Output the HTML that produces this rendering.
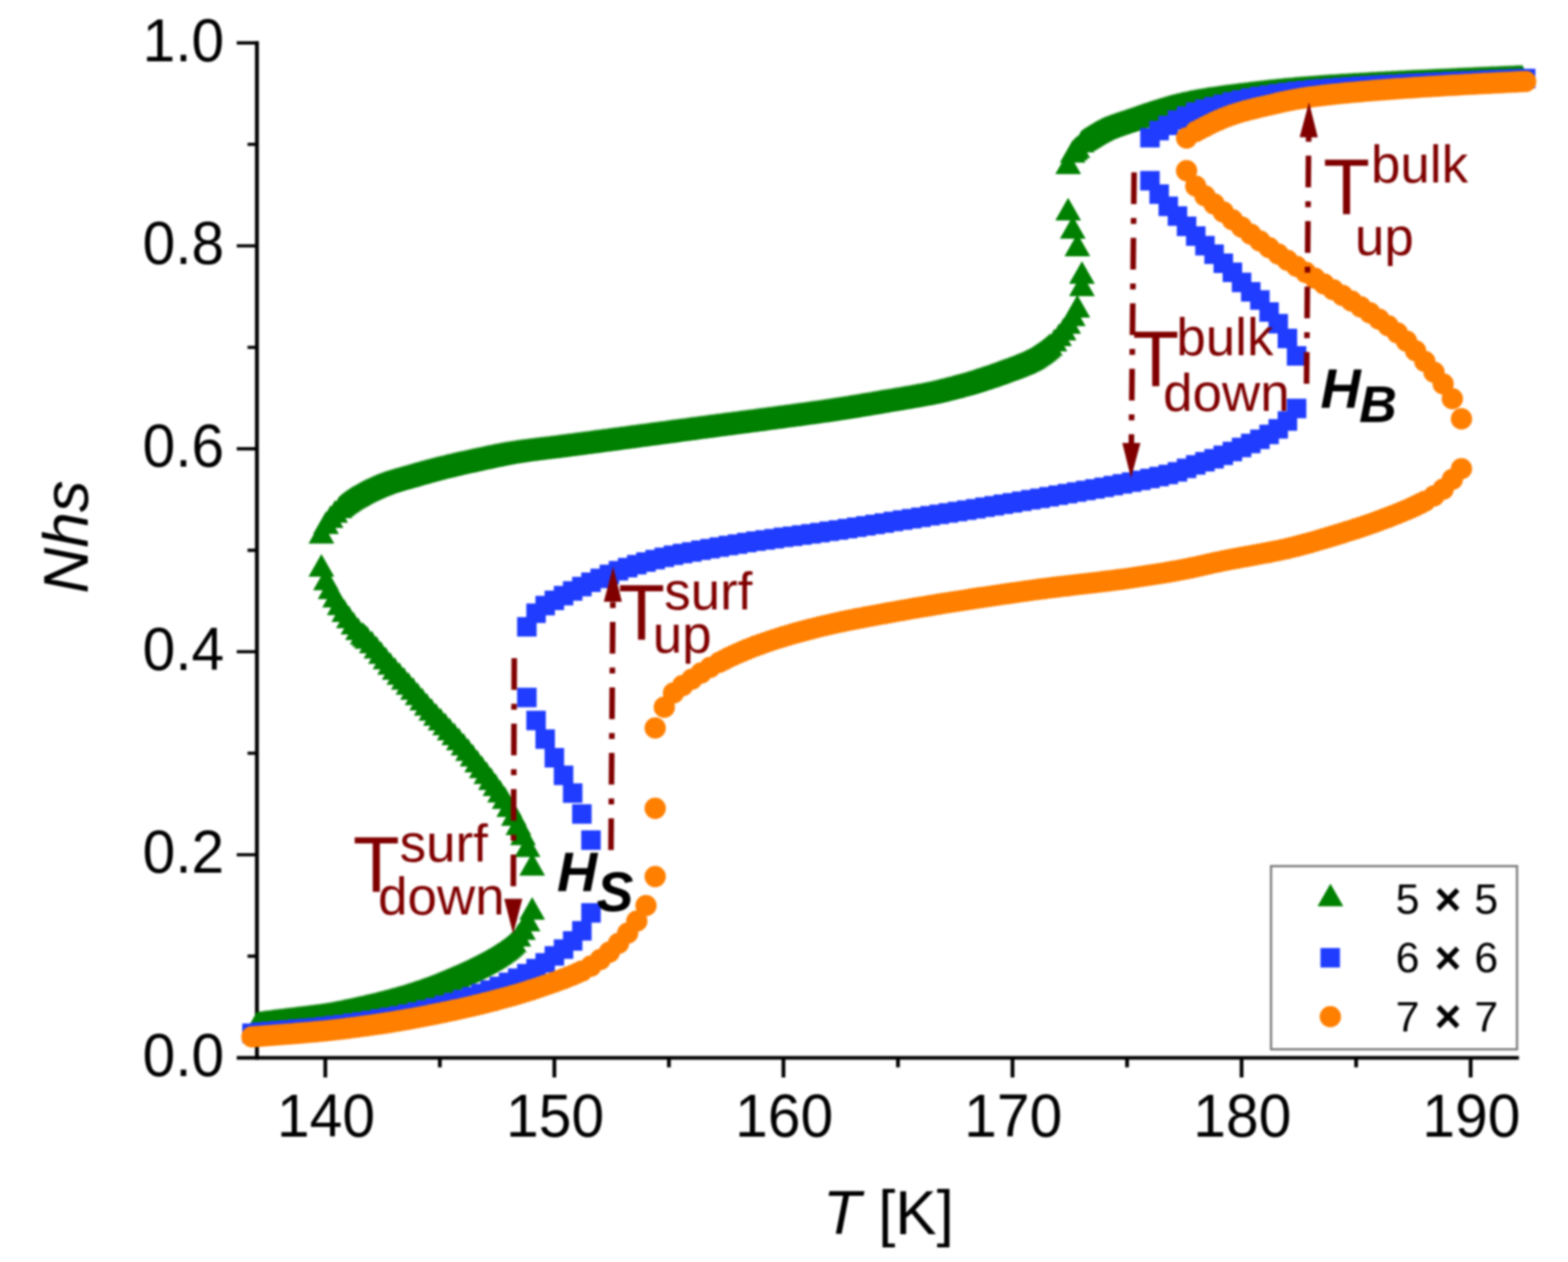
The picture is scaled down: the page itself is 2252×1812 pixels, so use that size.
<!DOCTYPE html>
<html lang="en">
<head>
<meta charset="utf-8">
<title>Nhs versus T</title>
<style>
html,body{margin:0;padding:0;background:#fff;}
body{width:2252px;height:1812px;overflow:hidden;}
svg{display:block;filter:blur(1.4px);}
</style>
</head>
<body>
<svg xmlns="http://www.w3.org/2000/svg" width="2252" height="1812" viewBox="0 0 2252 1812">
<rect width="2252" height="1812" fill="#fff"/>
<g stroke="#000" fill="none">
<path d="M369.0 59V1521.3999999999999" stroke-width="5.6"/>
<path d="M340 1518.8H2181.5" stroke-width="5.2"/>
<path d="M340 1227.2H369.0M340 935.8H369.0M340 644.4H369.0M340 353H369.0M340 61.6H369.0M355.5 1372.9H369.0M355.5 1081.5H369.0M355.5 790.1H369.0M355.5 498.7H369.0M355.5 207.3H369.0" stroke-width="4.6"/>
<path d="M467.2 1518.8V1547M796.2 1518.8V1547M1125.2 1518.8V1547M1454.2 1518.8V1547M1783.2 1518.8V1547M2112.2 1518.8V1547M631.7 1518.8V1532.5M960.7 1518.8V1532.5M1289.7 1518.8V1532.5M1618.7 1518.8V1532.5M1947.7 1518.8V1532.5" stroke-width="5.4"/>
</g>
<g font-family="'Liberation Sans', Arial, sans-serif" font-size="87" fill="#000">
<text transform="translate(322 1544.6) scale(.97 1)" text-anchor="end">0.0</text>
<text transform="translate(322 1253.2) scale(.97 1)" text-anchor="end">0.2</text>
<text transform="translate(322 961.8) scale(.97 1)" text-anchor="end">0.4</text>
<text transform="translate(322 670.4) scale(.97 1)" text-anchor="end">0.6</text>
<text transform="translate(322 379) scale(.97 1)" text-anchor="end">0.8</text>
<text transform="translate(322 87.6) scale(.97 1)" text-anchor="end">1.0</text>
<text transform="translate(468.2 1632) scale(.97 1)" text-anchor="middle">140</text>
<text transform="translate(797.2 1632) scale(.97 1)" text-anchor="middle">150</text>
<text transform="translate(1126.2 1632) scale(.97 1)" text-anchor="middle">160</text>
<text transform="translate(1455.2 1632) scale(.97 1)" text-anchor="middle">170</text>
<text transform="translate(1784.2 1632) scale(.97 1)" text-anchor="middle">180</text>
<text transform="translate(2113.2 1632) scale(.97 1)" text-anchor="middle">190</text>
</g>
<g font-family="'Liberation Sans', Arial, sans-serif" fill="#000">
<text x="1276" y="1771.5" font-size="89" text-anchor="middle"><tspan font-style="italic">T</tspan> [K]</text>
<text transform="translate(126 771) rotate(-90)" font-size="91.5" text-anchor="middle" font-style="italic">Nhs</text>
</g>
<path d="M372.8 1451.2l18.5 32.5h-37zM379.4 1450.3l18.5 32.5h-37zM385.9 1449.4l18.5 32.5h-37zM392.5 1448.5l18.5 32.5h-37zM399.1 1447.7l18.5 32.5h-37zM405.7 1446.9l18.5 32.5h-37zM412.3 1446.1l18.5 32.5h-37zM418.8 1445.3l18.5 32.5h-37zM425.4 1444.5l18.5 32.5h-37zM432 1443.7l18.5 32.5h-37zM438.6 1442.9l18.5 32.5h-37zM445.2 1442.1l18.5 32.5h-37zM451.7 1441.3l18.5 32.5h-37zM458.3 1440.4l18.5 32.5h-37zM464.9 1439.4l18.5 32.5h-37zM471.5 1438.4l18.5 32.5h-37zM478.1 1437.3l18.5 32.5h-37zM484.6 1436l18.5 32.5h-37zM491.2 1434.7l18.5 32.5h-37zM491.2 708.5l18.5 32.5h-37zM497.8 1433.3l18.5 32.5h-37zM497.8 703.4l18.5 32.5h-37zM504.4 1432l18.5 32.5h-37zM504.4 699.1l18.5 32.5h-37zM511 1430.5l18.5 32.5h-37zM511 695.2l18.5 32.5h-37zM517.5 1429.1l18.5 32.5h-37zM517.5 691.6l18.5 32.5h-37zM524.1 1427.6l18.5 32.5h-37zM524.1 895.9l18.5 32.5h-37zM524.1 688.1l18.5 32.5h-37zM530.7 1426.1l18.5 32.5h-37zM530.7 684.9l18.5 32.5h-37zM537.3 1424.5l18.5 32.5h-37zM537.3 682l18.5 32.5h-37zM543.9 1422.8l18.5 32.5h-37zM543.9 679.2l18.5 32.5h-37zM550.4 1421.2l18.5 32.5h-37zM550.4 676.7l18.5 32.5h-37zM557 1419.4l18.5 32.5h-37zM557 674.5l18.5 32.5h-37zM563.6 1417.6l18.5 32.5h-37zM563.6 672.5l18.5 32.5h-37zM570.2 1415.8l18.5 32.5h-37zM570.2 670.6l18.5 32.5h-37zM576.8 1413.9l18.5 32.5h-37zM576.8 668.7l18.5 32.5h-37zM583.3 1411.9l18.5 32.5h-37zM583.3 666.9l18.5 32.5h-37zM589.9 1409.8l18.5 32.5h-37zM589.9 665l18.5 32.5h-37zM596.5 1407.6l18.5 32.5h-37zM596.5 663.1l18.5 32.5h-37zM603.1 1405.4l18.5 32.5h-37zM603.1 661.2l18.5 32.5h-37zM609.7 1403.1l18.5 32.5h-37zM609.7 659.4l18.5 32.5h-37zM616.2 1400.7l18.5 32.5h-37zM616.2 657.7l18.5 32.5h-37zM622.8 1398.2l18.5 32.5h-37zM622.8 656l18.5 32.5h-37zM629.4 1395.5l18.5 32.5h-37zM629.4 654.3l18.5 32.5h-37zM636 1392.8l18.5 32.5h-37zM636 652.7l18.5 32.5h-37zM642.6 1390.1l18.5 32.5h-37zM642.6 651.1l18.5 32.5h-37zM649.1 1387.3l18.5 32.5h-37zM649.1 649.6l18.5 32.5h-37zM655.7 1384.4l18.5 32.5h-37zM655.7 648.1l18.5 32.5h-37zM662.3 1381.5l18.5 32.5h-37zM662.3 646.6l18.5 32.5h-37zM668.9 1378.4l18.5 32.5h-37zM668.9 645.2l18.5 32.5h-37zM675.5 1375.3l18.5 32.5h-37zM675.5 643.7l18.5 32.5h-37zM682 1372.1l18.5 32.5h-37zM682 642.3l18.5 32.5h-37zM688.6 1368.8l18.5 32.5h-37zM688.6 640.9l18.5 32.5h-37zM695.2 1365.3l18.5 32.5h-37zM695.2 639.4l18.5 32.5h-37zM701.8 1361.6l18.5 32.5h-37zM701.8 638l18.5 32.5h-37zM708.4 1357.7l18.5 32.5h-37zM708.4 636.7l18.5 32.5h-37zM714.9 1353.6l18.5 32.5h-37zM714.9 635.4l18.5 32.5h-37zM721.5 1349.1l18.5 32.5h-37zM721.5 634.2l18.5 32.5h-37zM728.1 1344.2l18.5 32.5h-37zM728.1 633l18.5 32.5h-37zM734.7 1338.6l18.5 32.5h-37zM734.7 631.9l18.5 32.5h-37zM741.3 630.9l18.5 32.5h-37zM747.8 630l18.5 32.5h-37zM754.4 629.2l18.5 32.5h-37zM761 628.3l18.5 32.5h-37zM767.6 627.5l18.5 32.5h-37zM774.2 626.7l18.5 32.5h-37zM780.7 626l18.5 32.5h-37zM787.3 625.2l18.5 32.5h-37zM793.9 624.3l18.5 32.5h-37zM800.5 623.5l18.5 32.5h-37zM807.1 622.6l18.5 32.5h-37zM813.6 621.8l18.5 32.5h-37zM820.2 620.9l18.5 32.5h-37zM826.8 620l18.5 32.5h-37zM833.4 619.2l18.5 32.5h-37zM840 618.3l18.5 32.5h-37zM846.5 617.4l18.5 32.5h-37zM853.1 616.6l18.5 32.5h-37zM859.7 615.7l18.5 32.5h-37zM866.3 614.8l18.5 32.5h-37zM872.9 613.9l18.5 32.5h-37zM879.4 613.1l18.5 32.5h-37zM886 612.2l18.5 32.5h-37zM892.6 611.3l18.5 32.5h-37zM899.2 610.4l18.5 32.5h-37zM905.8 609.5l18.5 32.5h-37zM912.3 608.7l18.5 32.5h-37zM918.9 607.8l18.5 32.5h-37zM925.5 606.9l18.5 32.5h-37zM932.1 606l18.5 32.5h-37zM938.7 605.1l18.5 32.5h-37zM945.2 604.2l18.5 32.5h-37zM951.8 603.4l18.5 32.5h-37zM958.4 602.5l18.5 32.5h-37zM965 601.6l18.5 32.5h-37zM971.6 600.7l18.5 32.5h-37zM978.1 599.8l18.5 32.5h-37zM984.7 598.9l18.5 32.5h-37zM991.3 598l18.5 32.5h-37zM997.9 597.2l18.5 32.5h-37zM1004.5 596.3l18.5 32.5h-37zM1011 595.4l18.5 32.5h-37zM1017.6 594.6l18.5 32.5h-37zM1024.2 593.7l18.5 32.5h-37zM1030.8 592.8l18.5 32.5h-37zM1037.4 592l18.5 32.5h-37zM1043.9 591.1l18.5 32.5h-37zM1050.5 590.2l18.5 32.5h-37zM1057.1 589.4l18.5 32.5h-37zM1063.7 588.5l18.5 32.5h-37zM1070.3 587.7l18.5 32.5h-37zM1076.8 586.8l18.5 32.5h-37zM1083.4 585.9l18.5 32.5h-37zM1090 585.1l18.5 32.5h-37zM1096.6 584.2l18.5 32.5h-37zM1103.2 583.3l18.5 32.5h-37zM1109.7 582.5l18.5 32.5h-37zM1116.3 581.6l18.5 32.5h-37zM1122.9 580.7l18.5 32.5h-37zM1129.5 579.8l18.5 32.5h-37zM1136.1 578.9l18.5 32.5h-37zM1142.6 578l18.5 32.5h-37zM1149.2 577.1l18.5 32.5h-37zM1155.8 576.2l18.5 32.5h-37zM1162.4 575.3l18.5 32.5h-37zM1169 574.3l18.5 32.5h-37zM1175.5 573.4l18.5 32.5h-37zM1182.1 572.4l18.5 32.5h-37zM1188.7 571.5l18.5 32.5h-37zM1195.3 570.5l18.5 32.5h-37zM1201.9 569.5l18.5 32.5h-37zM1208.4 568.5l18.5 32.5h-37zM1215 567.4l18.5 32.5h-37zM1221.6 566.3l18.5 32.5h-37zM1228.2 565.3l18.5 32.5h-37zM1234.8 564.2l18.5 32.5h-37zM1241.3 563l18.5 32.5h-37zM1247.9 561.9l18.5 32.5h-37zM1254.5 560.8l18.5 32.5h-37zM1261.1 559.7l18.5 32.5h-37zM1267.7 558.6l18.5 32.5h-37zM1274.2 557.5l18.5 32.5h-37zM1280.8 556.4l18.5 32.5h-37zM1287.4 555.3l18.5 32.5h-37zM1294 554.2l18.5 32.5h-37zM1300.6 553l18.5 32.5h-37zM1307.1 551.9l18.5 32.5h-37zM1313.7 550.7l18.5 32.5h-37zM1320.3 549.5l18.5 32.5h-37zM1326.9 548.2l18.5 32.5h-37zM1333.5 546.9l18.5 32.5h-37zM1340 545.4l18.5 32.5h-37zM1346.6 543.9l18.5 32.5h-37zM1353.2 542.3l18.5 32.5h-37zM1359.8 540.6l18.5 32.5h-37zM1366.4 538.9l18.5 32.5h-37zM1372.9 537.1l18.5 32.5h-37zM1379.5 535.3l18.5 32.5h-37zM1386.1 533.4l18.5 32.5h-37zM1392.7 531.4l18.5 32.5h-37zM1399.3 529.4l18.5 32.5h-37zM1405.8 527.3l18.5 32.5h-37zM1412.4 525.1l18.5 32.5h-37zM1419 522.9l18.5 32.5h-37zM1425.6 520.6l18.5 32.5h-37zM1432.2 518.2l18.5 32.5h-37zM1438.7 515.8l18.5 32.5h-37zM1445.3 513.4l18.5 32.5h-37zM1451.9 511l18.5 32.5h-37zM1458.5 508.4l18.5 32.5h-37zM1465.1 505.8l18.5 32.5h-37zM1471.6 502.9l18.5 32.5h-37zM1478.2 499.7l18.5 32.5h-37zM1484.8 495.9l18.5 32.5h-37zM1491.4 491.6l18.5 32.5h-37zM1498 486.8l18.5 32.5h-37zM1504.5 481.4l18.5 32.5h-37zM1544 197.6l18.5 32.5h-37zM1557.2 183.6l18.5 32.5h-37zM1563.8 179.4l18.5 32.5h-37zM1570.3 175.5l18.5 32.5h-37zM1576.9 171.7l18.5 32.5h-37zM1583.5 168.3l18.5 32.5h-37zM1590.1 165.5l18.5 32.5h-37zM1596.7 163.1l18.5 32.5h-37zM1603.2 160.8l18.5 32.5h-37zM1609.8 158.6l18.5 32.5h-37zM1616.4 156.4l18.5 32.5h-37zM1623 154.2l18.5 32.5h-37zM1629.6 151.9l18.5 32.5h-37zM1636.1 149.6l18.5 32.5h-37zM1642.7 147.3l18.5 32.5h-37zM1649.3 145.2l18.5 32.5h-37zM1655.9 143.1l18.5 32.5h-37zM1662.5 140.9l18.5 32.5h-37zM1669 138.9l18.5 32.5h-37zM1675.6 137l18.5 32.5h-37zM1682.2 135.1l18.5 32.5h-37zM1688.8 133.4l18.5 32.5h-37zM1695.4 131.9l18.5 32.5h-37zM1701.9 130.4l18.5 32.5h-37zM1708.5 129l18.5 32.5h-37zM1715.1 127.7l18.5 32.5h-37zM1721.7 126.5l18.5 32.5h-37zM1728.3 125.4l18.5 32.5h-37zM1734.8 124.3l18.5 32.5h-37zM1741.4 123.4l18.5 32.5h-37zM1748 122.4l18.5 32.5h-37zM1754.6 121.5l18.5 32.5h-37zM1761.2 120.6l18.5 32.5h-37zM1767.7 119.7l18.5 32.5h-37zM1774.3 118.9l18.5 32.5h-37zM1780.9 118.1l18.5 32.5h-37zM1787.5 117.3l18.5 32.5h-37zM1794.1 116.5l18.5 32.5h-37zM1800.6 115.7l18.5 32.5h-37zM1807.2 114.9l18.5 32.5h-37zM1813.8 114.2l18.5 32.5h-37zM1820.4 113.4l18.5 32.5h-37zM1827 112.7l18.5 32.5h-37zM1833.5 112.1l18.5 32.5h-37zM1840.1 111.4l18.5 32.5h-37zM1846.7 110.8l18.5 32.5h-37zM1853.3 110.2l18.5 32.5h-37zM1859.9 109.6l18.5 32.5h-37zM1866.4 109l18.5 32.5h-37zM1873 108.5l18.5 32.5h-37zM1879.6 108l18.5 32.5h-37zM1886.2 107.5l18.5 32.5h-37zM1892.8 107l18.5 32.5h-37zM1899.3 106.5l18.5 32.5h-37zM1905.9 106.1l18.5 32.5h-37zM1912.5 105.6l18.5 32.5h-37zM1919.1 105.2l18.5 32.5h-37zM1925.7 104.8l18.5 32.5h-37zM1932.2 104.4l18.5 32.5h-37zM1938.8 104l18.5 32.5h-37zM1945.4 103.6l18.5 32.5h-37zM1952 103.2l18.5 32.5h-37zM1958.6 102.9l18.5 32.5h-37zM1965.1 102.5l18.5 32.5h-37zM1971.7 102.1l18.5 32.5h-37zM1978.3 101.8l18.5 32.5h-37zM1984.9 101.4l18.5 32.5h-37zM1991.5 101.1l18.5 32.5h-37zM1998 100.8l18.5 32.5h-37zM2004.6 100.4l18.5 32.5h-37zM2011.2 100.1l18.5 32.5h-37zM2017.8 99.8l18.5 32.5h-37zM2024.4 99.5l18.5 32.5h-37zM2030.9 99.1l18.5 32.5h-37zM2037.5 98.8l18.5 32.5h-37zM2044.1 98.5l18.5 32.5h-37zM2050.7 98.2l18.5 32.5h-37zM2057.3 97.9l18.5 32.5h-37zM2063.8 97.6l18.5 32.5h-37zM2070.4 97.3l18.5 32.5h-37zM2077 97l18.5 32.5h-37zM2083.6 96.7l18.5 32.5h-37zM2090.2 96.4l18.5 32.5h-37zM2096.7 96.1l18.5 32.5h-37zM2103.3 95.8l18.5 32.5h-37zM2109.9 95.5l18.5 32.5h-37zM2116.5 95.3l18.5 32.5h-37zM2123.1 95l18.5 32.5h-37zM2129.6 94.7l18.5 32.5h-37zM2136.2 94.4l18.5 32.5h-37zM2142.8 94.1l18.5 32.5h-37zM2149.4 93.9l18.5 32.5h-37zM2156 93.6l18.5 32.5h-37zM2162.5 93.3l18.5 32.5h-37zM2169.1 93l18.5 32.5h-37zM2175.7 92.8l18.5 32.5h-37zM2182.3 92.5l18.5 32.5h-37zM369.5 1451.7l18.5 32.5h-37zM376.1 1450.7l18.5 32.5h-37zM382.6 1449.8l18.5 32.5h-37zM389.2 1448.9l18.5 32.5h-37zM395.8 1448.1l18.5 32.5h-37zM402.4 1447.3l18.5 32.5h-37zM409 1446.5l18.5 32.5h-37zM415.5 1445.7l18.5 32.5h-37zM422.1 1444.9l18.5 32.5h-37zM428.7 1444.1l18.5 32.5h-37zM435.3 1443.3l18.5 32.5h-37zM441.9 1442.5l18.5 32.5h-37zM448.4 1441.7l18.5 32.5h-37zM455 1440.8l18.5 32.5h-37zM461.6 1439.9l18.5 32.5h-37zM461.6 795.6l18.5 32.5h-37zM461.6 747.9l18.5 32.5h-37zM468.2 1438.9l18.5 32.5h-37zM468.2 815.1l18.5 32.5h-37zM468.2 734.2l18.5 32.5h-37zM474.8 1437.9l18.5 32.5h-37zM474.8 827.8l18.5 32.5h-37zM474.8 725.4l18.5 32.5h-37zM481.3 1436.7l18.5 32.5h-37zM481.3 839.8l18.5 32.5h-37zM481.3 717.9l18.5 32.5h-37zM487.9 1435.4l18.5 32.5h-37zM487.9 850.7l18.5 32.5h-37zM487.9 711.4l18.5 32.5h-37zM494.5 1434l18.5 32.5h-37zM494.5 860.4l18.5 32.5h-37zM494.5 705.8l18.5 32.5h-37zM501.1 1432.7l18.5 32.5h-37zM501.1 869.5l18.5 32.5h-37zM501.1 701.2l18.5 32.5h-37zM507.7 1431.3l18.5 32.5h-37zM507.7 878.4l18.5 32.5h-37zM507.7 697.1l18.5 32.5h-37zM514.2 1429.8l18.5 32.5h-37zM514.2 886.4l18.5 32.5h-37zM514.2 693.4l18.5 32.5h-37zM520.8 1428.4l18.5 32.5h-37zM520.8 892.9l18.5 32.5h-37zM520.8 689.8l18.5 32.5h-37zM527.4 1426.8l18.5 32.5h-37zM527.4 898.9l18.5 32.5h-37zM527.4 686.5l18.5 32.5h-37zM534 1425.3l18.5 32.5h-37zM534 905.6l18.5 32.5h-37zM534 683.4l18.5 32.5h-37zM540.6 1423.7l18.5 32.5h-37zM540.6 913l18.5 32.5h-37zM540.6 680.6l18.5 32.5h-37zM547.1 1422l18.5 32.5h-37zM547.1 920.8l18.5 32.5h-37zM547.1 677.9l18.5 32.5h-37zM553.7 1420.3l18.5 32.5h-37zM553.7 928.6l18.5 32.5h-37zM553.7 675.6l18.5 32.5h-37zM560.3 1418.5l18.5 32.5h-37zM560.3 936.2l18.5 32.5h-37zM560.3 673.5l18.5 32.5h-37zM566.9 1416.7l18.5 32.5h-37zM566.9 943.5l18.5 32.5h-37zM566.9 671.5l18.5 32.5h-37zM573.5 1414.8l18.5 32.5h-37zM573.5 950.7l18.5 32.5h-37zM573.5 669.7l18.5 32.5h-37zM580 1412.9l18.5 32.5h-37zM580 957.8l18.5 32.5h-37zM580 667.8l18.5 32.5h-37zM586.6 1410.8l18.5 32.5h-37zM586.6 965l18.5 32.5h-37zM586.6 665.9l18.5 32.5h-37zM593.2 1408.7l18.5 32.5h-37zM593.2 972.3l18.5 32.5h-37zM593.2 664l18.5 32.5h-37zM599.8 1406.5l18.5 32.5h-37zM599.8 979.9l18.5 32.5h-37zM599.8 662.2l18.5 32.5h-37zM606.4 1404.3l18.5 32.5h-37zM606.4 987.5l18.5 32.5h-37zM606.4 660.3l18.5 32.5h-37zM612.9 1401.9l18.5 32.5h-37zM612.9 995l18.5 32.5h-37zM612.9 658.5l18.5 32.5h-37zM619.5 1399.4l18.5 32.5h-37zM619.5 1002.3l18.5 32.5h-37zM619.5 656.8l18.5 32.5h-37zM626.1 1396.9l18.5 32.5h-37zM626.1 1009.4l18.5 32.5h-37zM626.1 655.1l18.5 32.5h-37zM632.7 1394.2l18.5 32.5h-37zM632.7 1016.3l18.5 32.5h-37zM632.7 653.5l18.5 32.5h-37zM639.3 1391.5l18.5 32.5h-37zM639.3 1023.3l18.5 32.5h-37zM639.3 651.9l18.5 32.5h-37zM645.8 1388.7l18.5 32.5h-37zM645.8 1030.4l18.5 32.5h-37zM645.8 650.4l18.5 32.5h-37zM652.4 1385.8l18.5 32.5h-37zM652.4 1037.5l18.5 32.5h-37zM652.4 648.8l18.5 32.5h-37zM659 1382.9l18.5 32.5h-37zM659 1044.8l18.5 32.5h-37zM659 647.3l18.5 32.5h-37zM665.6 1380l18.5 32.5h-37zM665.6 1052.3l18.5 32.5h-37zM665.6 645.9l18.5 32.5h-37zM672.2 1376.9l18.5 32.5h-37zM672.2 1060.1l18.5 32.5h-37zM672.2 644.4l18.5 32.5h-37zM678.7 1373.7l18.5 32.5h-37zM678.7 1068.1l18.5 32.5h-37zM678.7 643l18.5 32.5h-37zM685.3 1370.4l18.5 32.5h-37zM685.3 1076.4l18.5 32.5h-37zM685.3 641.6l18.5 32.5h-37zM691.9 1367l18.5 32.5h-37zM691.9 1084.8l18.5 32.5h-37zM691.9 640.2l18.5 32.5h-37zM698.5 1363.5l18.5 32.5h-37zM698.5 1093.3l18.5 32.5h-37zM698.5 638.7l18.5 32.5h-37zM705.1 1359.7l18.5 32.5h-37zM705.1 1101.8l18.5 32.5h-37zM705.1 637.4l18.5 32.5h-37zM711.6 1355.7l18.5 32.5h-37zM711.6 1110.6l18.5 32.5h-37zM711.6 636l18.5 32.5h-37zM718.2 1351.4l18.5 32.5h-37zM718.2 1119.7l18.5 32.5h-37zM718.2 634.8l18.5 32.5h-37zM724.8 1346.7l18.5 32.5h-37zM724.8 1129l18.5 32.5h-37zM724.8 633.6l18.5 32.5h-37zM731.4 1341.5l18.5 32.5h-37zM731.4 1140.6l18.5 32.5h-37zM731.4 632.5l18.5 32.5h-37zM738 1335.3l18.5 32.5h-37zM738 1153.2l18.5 32.5h-37zM738 631.4l18.5 32.5h-37zM744.5 1326.6l18.5 32.5h-37zM744.5 1166.4l18.5 32.5h-37zM744.5 630.5l18.5 32.5h-37zM751.1 1317.1l18.5 32.5h-37zM751.1 1180.9l18.5 32.5h-37zM751.1 629.6l18.5 32.5h-37zM757.7 1304.8l18.5 32.5h-37zM757.7 1198.1l18.5 32.5h-37zM757.7 628.7l18.5 32.5h-37zM764.3 1287.9l18.5 32.5h-37zM764.3 1224.7l18.5 32.5h-37zM764.3 627.9l18.5 32.5h-37zM770.9 627.1l18.5 32.5h-37zM777.4 626.3l18.5 32.5h-37zM784 625.6l18.5 32.5h-37zM790.6 624.8l18.5 32.5h-37zM797.2 623.9l18.5 32.5h-37zM803.8 623.1l18.5 32.5h-37zM810.3 622.2l18.5 32.5h-37zM816.9 621.3l18.5 32.5h-37zM823.5 620.5l18.5 32.5h-37zM830.1 619.6l18.5 32.5h-37zM836.7 618.7l18.5 32.5h-37zM843.2 617.9l18.5 32.5h-37zM849.8 617l18.5 32.5h-37zM856.4 616.1l18.5 32.5h-37zM863 615.3l18.5 32.5h-37zM869.6 614.4l18.5 32.5h-37zM876.1 613.5l18.5 32.5h-37zM882.7 612.6l18.5 32.5h-37zM889.3 611.7l18.5 32.5h-37zM895.9 610.9l18.5 32.5h-37zM902.5 610l18.5 32.5h-37zM909 609.1l18.5 32.5h-37zM915.6 608.2l18.5 32.5h-37zM922.2 607.3l18.5 32.5h-37zM928.8 606.5l18.5 32.5h-37zM935.4 605.6l18.5 32.5h-37zM941.9 604.7l18.5 32.5h-37zM948.5 603.8l18.5 32.5h-37zM955.1 602.9l18.5 32.5h-37zM961.7 602l18.5 32.5h-37zM968.3 601.1l18.5 32.5h-37zM974.8 600.3l18.5 32.5h-37zM981.4 599.4l18.5 32.5h-37zM988 598.5l18.5 32.5h-37zM994.6 597.6l18.5 32.5h-37zM1001.2 596.7l18.5 32.5h-37zM1007.7 595.9l18.5 32.5h-37zM1014.3 595l18.5 32.5h-37zM1020.9 594.1l18.5 32.5h-37zM1027.5 593.3l18.5 32.5h-37zM1034.1 592.4l18.5 32.5h-37zM1040.6 591.5l18.5 32.5h-37zM1047.2 590.7l18.5 32.5h-37zM1053.8 589.8l18.5 32.5h-37zM1060.4 589l18.5 32.5h-37zM1067 588.1l18.5 32.5h-37zM1073.5 587.2l18.5 32.5h-37zM1080.1 586.4l18.5 32.5h-37zM1086.7 585.5l18.5 32.5h-37zM1093.3 584.6l18.5 32.5h-37zM1099.9 583.8l18.5 32.5h-37zM1106.4 582.9l18.5 32.5h-37zM1113 582l18.5 32.5h-37zM1119.6 581.1l18.5 32.5h-37zM1126.2 580.3l18.5 32.5h-37zM1132.8 579.4l18.5 32.5h-37zM1139.3 578.5l18.5 32.5h-37zM1145.9 577.6l18.5 32.5h-37zM1152.5 576.7l18.5 32.5h-37zM1159.1 575.7l18.5 32.5h-37zM1165.7 574.8l18.5 32.5h-37zM1172.2 573.9l18.5 32.5h-37zM1178.8 572.9l18.5 32.5h-37zM1185.4 571.9l18.5 32.5h-37zM1192 571l18.5 32.5h-37zM1198.6 570l18.5 32.5h-37zM1205.1 569l18.5 32.5h-37zM1211.7 567.9l18.5 32.5h-37zM1218.3 566.9l18.5 32.5h-37zM1224.9 565.8l18.5 32.5h-37zM1231.5 564.7l18.5 32.5h-37zM1238 563.6l18.5 32.5h-37zM1244.6 562.5l18.5 32.5h-37zM1251.2 561.4l18.5 32.5h-37zM1257.8 560.2l18.5 32.5h-37zM1264.4 559.1l18.5 32.5h-37zM1270.9 558l18.5 32.5h-37zM1277.5 556.9l18.5 32.5h-37zM1284.1 555.8l18.5 32.5h-37zM1290.7 554.7l18.5 32.5h-37zM1297.3 553.6l18.5 32.5h-37zM1303.8 552.5l18.5 32.5h-37zM1310.4 551.3l18.5 32.5h-37zM1317 550.1l18.5 32.5h-37zM1323.6 548.9l18.5 32.5h-37zM1330.2 547.6l18.5 32.5h-37zM1336.7 546.2l18.5 32.5h-37zM1343.3 544.7l18.5 32.5h-37zM1349.9 543.1l18.5 32.5h-37zM1356.5 541.5l18.5 32.5h-37zM1363.1 539.8l18.5 32.5h-37zM1369.6 538l18.5 32.5h-37zM1376.2 536.2l18.5 32.5h-37zM1382.8 534.4l18.5 32.5h-37zM1389.4 532.4l18.5 32.5h-37zM1396 530.4l18.5 32.5h-37zM1402.5 528.3l18.5 32.5h-37zM1409.1 526.2l18.5 32.5h-37zM1415.7 524l18.5 32.5h-37zM1422.3 521.7l18.5 32.5h-37zM1428.9 519.4l18.5 32.5h-37zM1435.4 517l18.5 32.5h-37zM1442 514.6l18.5 32.5h-37zM1448.6 512.2l18.5 32.5h-37zM1455.2 509.7l18.5 32.5h-37zM1461.8 507.1l18.5 32.5h-37zM1468.3 504.4l18.5 32.5h-37zM1474.9 501.3l18.5 32.5h-37zM1481.5 497.9l18.5 32.5h-37zM1488.1 493.8l18.5 32.5h-37zM1494.7 489.3l18.5 32.5h-37zM1501.2 484.2l18.5 32.5h-37zM1507.8 478.4l18.5 32.5h-37zM1514.4 472l18.5 32.5h-37zM1521 464.6l18.5 32.5h-37zM1527.6 456.3l18.5 32.5h-37zM1534.1 446.7l18.5 32.5h-37zM1534.1 284l18.5 32.5h-37zM1534.1 217.6l18.5 32.5h-37zM1540.7 435.8l18.5 32.5h-37zM1540.7 310.2l18.5 32.5h-37zM1540.7 201.1l18.5 32.5h-37zM1547.3 423.5l18.5 32.5h-37zM1547.3 335.4l18.5 32.5h-37zM1547.3 194.5l18.5 32.5h-37zM1553.9 392.7l18.5 32.5h-37zM1553.9 375.1l18.5 32.5h-37zM1553.9 186.2l18.5 32.5h-37zM1560.5 181.4l18.5 32.5h-37zM1567 177.5l18.5 32.5h-37zM1573.6 173.6l18.5 32.5h-37zM1580.2 170l18.5 32.5h-37zM1586.8 166.8l18.5 32.5h-37zM1593.4 164.2l18.5 32.5h-37zM1599.9 161.9l18.5 32.5h-37zM1606.5 159.7l18.5 32.5h-37zM1613.1 157.5l18.5 32.5h-37zM1619.7 155.3l18.5 32.5h-37zM1626.3 153l18.5 32.5h-37zM1632.8 150.7l18.5 32.5h-37zM1639.4 148.5l18.5 32.5h-37zM1646 146.3l18.5 32.5h-37zM1652.6 144.1l18.5 32.5h-37zM1659.2 142l18.5 32.5h-37zM1665.7 139.9l18.5 32.5h-37zM1672.3 137.9l18.5 32.5h-37zM1678.9 136l18.5 32.5h-37zM1685.5 134.3l18.5 32.5h-37zM1692.1 132.6l18.5 32.5h-37zM1698.6 131.1l18.5 32.5h-37zM1705.2 129.7l18.5 32.5h-37zM1711.8 128.3l18.5 32.5h-37zM1718.4 127.1l18.5 32.5h-37zM1725 125.9l18.5 32.5h-37zM1731.5 124.9l18.5 32.5h-37zM1738.1 123.8l18.5 32.5h-37zM1744.7 122.9l18.5 32.5h-37zM1751.3 121.9l18.5 32.5h-37zM1757.9 121l18.5 32.5h-37zM1764.4 120.2l18.5 32.5h-37zM1771 119.3l18.5 32.5h-37zM1777.6 118.5l18.5 32.5h-37zM1784.2 117.7l18.5 32.5h-37zM1790.8 116.9l18.5 32.5h-37zM1797.3 116.1l18.5 32.5h-37zM1803.9 115.3l18.5 32.5h-37zM1810.5 114.5l18.5 32.5h-37zM1817.1 113.8l18.5 32.5h-37zM1823.7 113.1l18.5 32.5h-37zM1830.2 112.4l18.5 32.5h-37zM1836.8 111.7l18.5 32.5h-37zM1843.4 111.1l18.5 32.5h-37zM1850 110.5l18.5 32.5h-37zM1856.6 109.9l18.5 32.5h-37zM1863.1 109.3l18.5 32.5h-37zM1869.7 108.8l18.5 32.5h-37zM1876.3 108.2l18.5 32.5h-37zM1882.9 107.7l18.5 32.5h-37zM1889.5 107.2l18.5 32.5h-37zM1896 106.7l18.5 32.5h-37zM1902.6 106.3l18.5 32.5h-37zM1909.2 105.8l18.5 32.5h-37zM1915.8 105.4l18.5 32.5h-37zM1922.4 105l18.5 32.5h-37zM1928.9 104.6l18.5 32.5h-37zM1935.5 104.2l18.5 32.5h-37zM1942.1 103.8l18.5 32.5h-37zM1948.7 103.4l18.5 32.5h-37zM1955.3 103l18.5 32.5h-37zM1961.8 102.7l18.5 32.5h-37zM1968.4 102.3l18.5 32.5h-37zM1975 102l18.5 32.5h-37zM1981.6 101.6l18.5 32.5h-37zM1988.2 101.3l18.5 32.5h-37zM1994.7 100.9l18.5 32.5h-37zM2001.3 100.6l18.5 32.5h-37zM2007.9 100.3l18.5 32.5h-37zM2014.5 99.9l18.5 32.5h-37zM2021.1 99.6l18.5 32.5h-37zM2027.6 99.3l18.5 32.5h-37zM2034.2 99l18.5 32.5h-37zM2040.8 98.7l18.5 32.5h-37zM2047.4 98.4l18.5 32.5h-37zM2054 98.1l18.5 32.5h-37zM2060.5 97.8l18.5 32.5h-37zM2067.1 97.4l18.5 32.5h-37zM2073.7 97.2l18.5 32.5h-37zM2080.3 96.9l18.5 32.5h-37zM2086.9 96.6l18.5 32.5h-37zM2093.4 96.3l18.5 32.5h-37zM2100 96l18.5 32.5h-37zM2106.6 95.7l18.5 32.5h-37zM2113.2 95.4l18.5 32.5h-37zM2119.8 95.1l18.5 32.5h-37zM2126.3 94.8l18.5 32.5h-37zM2132.9 94.6l18.5 32.5h-37zM2139.5 94.3l18.5 32.5h-37zM2146.1 94l18.5 32.5h-37zM2152.7 93.7l18.5 32.5h-37zM2159.2 93.4l18.5 32.5h-37zM2165.8 93.2l18.5 32.5h-37zM2172.4 92.9l18.5 32.5h-37zM2179 92.6l18.5 32.5h-37zM2185.6 92.4l18.5 32.5h-37z" fill="#008000"/>
<path d="M347.9 1469.4h28v28h-28zM361.1 1468.1h28v28h-28zM374.2 1466.9h28v28h-28zM387.4 1465.8h28v28h-28zM400.6 1464.7h28v28h-28zM413.7 1463.6h28v28h-28zM426.9 1462.5h28v28h-28zM440 1461.4h28v28h-28zM453.2 1460.1h28v28h-28zM466.4 1458.6h28v28h-28zM479.5 1456.9h28v28h-28zM492.7 1455.1h28v28h-28zM505.8 1453.2h28v28h-28zM519 1451.2h28v28h-28zM532.2 1449.1h28v28h-28zM545.3 1446.8h28v28h-28zM558.5 1444.5h28v28h-28zM571.6 1441.9h28v28h-28zM584.8 1439.2h28v28h-28zM598 1436.2h28v28h-28zM611.1 1432.9h28v28h-28zM624.3 1429.2h28v28h-28zM637.4 1425.4h28v28h-28zM650.6 1421.3h28v28h-28zM663.8 1417h28v28h-28zM676.9 1412.4h28v28h-28zM690.1 1407.5h28v28h-28zM703.2 1402.3h28v28h-28zM716.4 1396.6h28v28h-28zM729.6 1390.5h28v28h-28zM742.7 1383.9h28v28h-28zM742.7 987.4h28v28h-28zM742.7 886.1h28v28h-28zM755.9 1376.7h28v28h-28zM755.9 1020.6h28v28h-28zM755.9 866.6h28v28h-28zM769 1368.5h28v28h-28zM769 1047.3h28v28h-28zM769 855.5h28v28h-28zM782.2 1358.5h28v28h-28zM782.2 1074.1h28v28h-28zM782.2 848.1h28v28h-28zM795.4 1348.8h28v28h-28zM795.4 1099.3h28v28h-28zM795.4 841.2h28v28h-28zM808.5 1337h28v28h-28zM808.5 1124.8h28v28h-28zM808.5 834.6h28v28h-28zM821.7 1322.4h28v28h-28zM821.7 1154.8h28v28h-28zM821.7 828.2h28v28h-28zM834.8 1296.7h28v28h-28zM834.8 1192.3h28v28h-28zM834.8 822.1h28v28h-28zM848 816.4h28v28h-28zM861.2 810.7h28v28h-28zM874.3 805.5h28v28h-28zM887.5 800.9h28v28h-28zM900.6 796.8h28v28h-28zM913.8 793h28v28h-28zM927 789.5h28v28h-28zM940.1 786.3h28v28h-28zM953.3 783.3h28v28h-28zM966.4 780.8h28v28h-28zM979.6 778.4h28v28h-28zM992.8 776h28v28h-28zM1005.9 773.7h28v28h-28zM1019.1 771.5h28v28h-28zM1032.2 769.3h28v28h-28zM1045.4 767.2h28v28h-28zM1058.6 765.1h28v28h-28zM1071.7 763.1h28v28h-28zM1084.9 761.2h28v28h-28zM1098 759.4h28v28h-28zM1111.2 757.6h28v28h-28zM1124.4 755.9h28v28h-28zM1137.5 754.2h28v28h-28zM1150.7 752.4h28v28h-28zM1163.8 750.7h28v28h-28zM1177 748.8h28v28h-28zM1190.2 746.9h28v28h-28zM1203.3 745h28v28h-28zM1216.5 743h28v28h-28zM1229.6 740.9h28v28h-28zM1242.8 738.9h28v28h-28zM1256 736.9h28v28h-28zM1269.1 734.8h28v28h-28zM1282.3 732.7h28v28h-28zM1295.4 730.7h28v28h-28zM1308.6 728.7h28v28h-28zM1321.8 726.6h28v28h-28zM1334.9 724.6h28v28h-28zM1348.1 722.5h28v28h-28zM1361.2 720.5h28v28h-28zM1374.4 718.4h28v28h-28zM1387.6 716.4h28v28h-28zM1400.7 714.3h28v28h-28zM1413.9 712.2h28v28h-28zM1427 710.1h28v28h-28zM1440.2 708h28v28h-28zM1453.4 705.8h28v28h-28zM1466.5 703.6h28v28h-28zM1479.7 701.4h28v28h-28zM1492.8 699.2h28v28h-28zM1506 697h28v28h-28zM1519.2 694.8h28v28h-28zM1532.3 692.6h28v28h-28zM1545.5 690.3h28v28h-28zM1558.6 688.1h28v28h-28zM1571.8 685.7h28v28h-28zM1585 683.3h28v28h-28zM1598.1 680.8h28v28h-28zM1611.3 678.3h28v28h-28zM1624.4 675.7h28v28h-28zM1637.6 673.1h28v28h-28zM1637.6 245.4h28v28h-28zM1637.6 183.7h28v28h-28zM1650.8 670.3h28v28h-28zM1650.8 264.7h28v28h-28zM1650.8 173.6h28v28h-28zM1663.9 667.2h28v28h-28zM1663.9 282.3h28v28h-28zM1663.9 165.9h28v28h-28zM1677.1 663.4h28v28h-28zM1677.1 296.3h28v28h-28zM1677.1 158.6h28v28h-28zM1690.2 658.5h28v28h-28zM1690.2 311h28v28h-28zM1690.2 152.8h28v28h-28zM1703.4 653.5h28v28h-28zM1703.4 325h28v28h-28zM1703.4 147h28v28h-28zM1716.6 649.1h28v28h-28zM1716.6 338.8h28v28h-28zM1716.6 142.8h28v28h-28zM1729.7 644.7h28v28h-28zM1729.7 350.9h28v28h-28zM1729.7 139.3h28v28h-28zM1742.9 639.7h28v28h-28zM1742.9 364.1h28v28h-28zM1742.9 135.7h28v28h-28zM1756 634.3h28v28h-28zM1756 376.9h28v28h-28zM1756 132.3h28v28h-28zM1769.2 628.6h28v28h-28zM1769.2 391.5h28v28h-28zM1769.2 129.4h28v28h-28zM1782.4 622.8h28v28h-28zM1782.4 404.9h28v28h-28zM1782.4 126.8h28v28h-28zM1795.5 616.7h28v28h-28zM1795.5 416.8h28v28h-28zM1795.5 124.5h28v28h-28zM1808.7 609.7h28v28h-28zM1808.7 434h28v28h-28zM1808.7 122.4h28v28h-28zM1821.8 601.8h28v28h-28zM1821.8 450.7h28v28h-28zM1821.8 120.5h28v28h-28zM1835 590.5h28v28h-28zM1835 472h28v28h-28zM1835 118.8h28v28h-28zM1848.2 572.6h28v28h-28zM1848.2 497h28v28h-28zM1848.2 117.3h28v28h-28zM1861.3 115.9h28v28h-28zM1874.5 114.6h28v28h-28zM1887.6 113.5h28v28h-28zM1900.8 112.5h28v28h-28zM1914 111.5h28v28h-28zM1927.1 110.7h28v28h-28zM1940.3 109.8h28v28h-28zM1953.4 109.1h28v28h-28zM1966.6 108.3h28v28h-28zM1979.8 107.6h28v28h-28zM1992.9 106.9h28v28h-28zM2006.1 106.2h28v28h-28zM2019.2 105.6h28v28h-28zM2032.4 104.9h28v28h-28zM2045.6 104.3h28v28h-28zM2058.7 103.7h28v28h-28zM2071.9 103.1h28v28h-28zM2085 102.5h28v28h-28zM2098.2 101.9h28v28h-28zM2111.4 101.4h28v28h-28zM2124.5 100.8h28v28h-28zM2137.7 100.3h28v28h-28zM2150.8 99.7h28v28h-28zM2164 99.2h28v28h-28zM2177.2 98.7h28v28h-28z" fill="#1f3cff"/>
<path d="M368.5 1488.2h0M381.7 1487.2h0M394.8 1486.2h0M408 1485.2h0M421.1 1484.2h0M434.3 1483.1h0M447.5 1482h0M460.6 1480.8h0M473.8 1479.5h0M486.9 1478h0M500.1 1476.4h0M513.3 1474.7h0M526.4 1472.9h0M539.6 1471h0M552.7 1469.1h0M565.9 1467h0M579.1 1464.8h0M592.2 1462.5h0M605.4 1460h0M618.5 1457.4h0M631.7 1454.8h0M644.9 1452h0M658 1449.2h0M671.2 1446.2h0M684.3 1443.1h0M697.5 1439.9h0M710.7 1436.6h0M723.8 1433h0M737 1429.4h0M750.1 1425.5h0M763.3 1421.4h0M776.5 1417h0M789.6 1412.5h0M802.8 1407.8h0M815.9 1402.8h0M829.1 1397.3h0M1039.7 947.7h0M1052.8 941.3h0M1066 935.4h0M1079.1 930h0M1092.3 925.1h0M1105.5 920.5h0M1118.6 916.2h0M1131.8 912.2h0M1144.9 908.4h0M1158.1 904.9h0M1171.3 901.5h0M1184.4 898.2h0M1197.6 895.2h0M1210.7 892.4h0M1223.9 889.7h0M1237.1 887.2h0M1250.2 884.7h0M1263.4 882.3h0M1276.5 879.9h0M1289.7 877.5h0M1302.9 875.2h0M1316 872.9h0M1329.2 870.7h0M1342.3 868.5h0M1355.5 866.3h0M1368.7 864.2h0M1381.8 862.2h0M1395 860.1h0M1408.1 858.1h0M1421.3 856.2h0M1434.5 854.3h0M1447.6 852.4h0M1460.8 850.5h0M1473.9 848.6h0M1487.1 846.8h0M1500.3 845.1h0M1513.4 843.4h0M1526.6 841.8h0M1539.7 840.3h0M1552.9 838.8h0M1566.1 837.2h0M1579.2 835.7h0M1592.4 834.1h0M1605.5 832.4h0M1618.7 830.7h0M1631.9 828.8h0M1645 826.8h0M1658.2 824.8h0M1671.3 822.7h0M1684.5 820.4h0M1697.7 818h0M1710.8 815.4h0M1724 812.5h0M1737.1 809.5h0M1750.3 806.7h0M1763.5 804h0M1776.6 801.6h0M1789.8 799.1h0M1802.9 796.7h0M1816.1 794.3h0M1829.3 791.8h0M1842.4 789h0M1855.6 786h0M1868.7 782.6h0M1881.9 779.1h0M1895.1 775.3h0M1908.2 771.4h0M1921.4 767.4h0M1934.5 763.3h0M1947.7 759.1h0M1960.9 754.7h0M1974 750.2h0M1987.2 745.3h0M2000.3 740.3h0M2013.5 735h0M2026.7 729.4h0M2039.8 723.1h0M1724 185.5h0M1737.1 178.8h0M1750.3 172.6h0M1763.5 167.3h0M1776.6 162.8h0M1789.8 158.9h0M1802.9 155.6h0M1816.1 152.5h0M1829.3 149.5h0M1842.4 146.4h0M1855.6 143.7h0M1868.7 141.4h0M1881.9 139.4h0M1895.1 137.7h0M1908.2 136.1h0M1921.4 134.7h0M1934.5 133.4h0M1947.7 132.2h0M1960.9 131h0M1974 129.9h0M1987.2 128.9h0M2000.3 127.9h0M2013.5 127h0M2026.7 126.1h0M2039.8 125.2h0M2053 124.4h0M2066.1 123.6h0M2079.3 122.8h0M2092.5 122.1h0M2105.6 121.3h0M2118.8 120.6h0M2131.9 119.9h0M2145.1 119.3h0M2158.3 118.6h0M2171.4 118h0M2184.6 117.3h0M361.9 1488.7h0M375.1 1487.7h0M388.2 1486.7h0M401.4 1485.7h0M414.6 1484.7h0M427.7 1483.6h0M440.9 1482.5h0M454 1481.4h0M467.2 1480.2h0M480.4 1478.7h0M493.5 1477.2h0M506.7 1475.5h0M519.8 1473.8h0M533 1472h0M546.2 1470.1h0M559.3 1468.1h0M572.5 1465.9h0M585.6 1463.6h0M598.8 1461.3h0M612 1458.7h0M625.1 1456.1h0M638.3 1453.4h0M651.4 1450.6h0M664.6 1447.7h0M677.8 1444.7h0M690.9 1441.6h0M704.1 1438.3h0M717.2 1434.8h0M730.4 1431.3h0M743.6 1427.5h0M756.7 1423.5h0M769.9 1419.3h0M783 1414.8h0M796.2 1410.2h0M809.4 1405.4h0M822.5 1400.3h0M835.7 1394.4h0M848.8 1387.1h0M862 1377.8h0M875.2 1367.1h0M888.3 1354.5h0M901.5 1339.7h0M914.6 1322.5h0M927.8 1300.3h0M941 1160.6h0M954.1 1015.4h0M967.3 995h0M980.4 984.4h0M993.6 975.2h0M1006.8 966.4h0M1019.9 958.2h0M1033.1 951h0M1046.2 944.3h0M1059.4 938.2h0M1072.6 932.6h0M1085.7 927.4h0M1098.9 922.7h0M1112 918.3h0M1125.2 914.1h0M1138.4 910.3h0M1151.5 906.6h0M1164.7 903.1h0M1177.8 899.8h0M1191 896.7h0M1204.2 893.8h0M1217.3 891h0M1230.5 888.4h0M1243.6 885.9h0M1256.8 883.5h0M1270 881.1h0M1283.1 878.7h0M1296.3 876.4h0M1309.4 874h0M1322.6 871.8h0M1335.8 869.6h0M1348.9 867.4h0M1362.1 865.3h0M1375.2 863.2h0M1388.4 861.2h0M1401.6 859.1h0M1414.7 857.2h0M1427.9 855.2h0M1441 853.3h0M1454.2 851.4h0M1467.4 849.5h0M1480.5 847.7h0M1493.7 845.9h0M1506.8 844.2h0M1520 842.6h0M1533.2 841.1h0M1546.3 839.5h0M1559.5 838h0M1572.6 836.5h0M1585.8 834.9h0M1599 833.3h0M1612.1 831.6h0M1625.3 829.8h0M1638.4 827.8h0M1651.6 825.8h0M1664.8 823.8h0M1677.9 821.6h0M1691.1 819.2h0M1704.2 816.8h0M1704.2 245.1h0M1704.2 198.1h0M1717.4 814h0M1717.4 267.2h0M1717.4 188.9h0M1730.6 811h0M1730.6 281.3h0M1730.6 182.1h0M1743.7 808h0M1743.7 292.9h0M1743.7 175.5h0M1756.9 805.3h0M1756.9 304.4h0M1756.9 169.7h0M1770 802.8h0M1770 315.5h0M1770 164.9h0M1783.2 800.3h0M1783.2 326h0M1783.2 160.7h0M1796.4 798h0M1796.4 336.2h0M1796.4 157.2h0M1809.5 795.5h0M1809.5 346h0M1809.5 154h0M1822.7 793.1h0M1822.7 355.5h0M1822.7 151h0M1835.8 790.5h0M1835.8 364.8h0M1835.8 147.9h0M1849 787.6h0M1849 373.8h0M1849 145h0M1862.2 784.4h0M1862.2 382.5h0M1862.2 142.5h0M1875.3 780.9h0M1875.3 391.1h0M1875.3 140.4h0M1888.5 777.3h0M1888.5 399.5h0M1888.5 138.5h0M1901.6 773.4h0M1901.6 407.8h0M1901.6 136.9h0M1914.8 769.4h0M1914.8 416h0M1914.8 135.4h0M1928 765.4h0M1928 424.1h0M1928 134h0M1941.1 761.2h0M1941.1 432.2h0M1941.1 132.8h0M1954.3 757h0M1954.3 440.6h0M1954.3 131.6h0M1967.4 752.5h0M1967.4 449.1h0M1967.4 130.5h0M1980.6 747.8h0M1980.6 458.2h0M1980.6 129.4h0M1993.8 742.9h0M1993.8 467.7h0M1993.8 128.4h0M2006.9 737.7h0M2006.9 478h0M2006.9 127.4h0M2020.1 732.3h0M2020.1 489.9h0M2020.1 126.5h0M2033.2 726.4h0M2033.2 503.8h0M2033.2 125.6h0M2046.4 719.7h0M2046.4 519h0M2046.4 124.8h0M2059.6 712h0M2059.6 534.5h0M2059.6 124h0M2072.7 702.4h0M2072.7 551.3h0M2072.7 123.2h0M2085.9 688.3h0M2085.9 572.5h0M2085.9 122.4h0M2099 673h0M2099 601.4h0M2099 121.7h0M2112.2 121h0M2125.4 120.3h0M2138.5 119.6h0M2151.7 118.9h0M2164.8 118.3h0M2178 117.6h0M2191.2 117h0M941 1258.6h0M941 1045.3h0" fill="none" stroke="#ff7f00" stroke-width="30.6" stroke-linecap="round"/>
<path d="M738.6 945L737.1 1311" stroke="#800000" stroke-width="8" fill="none" stroke-dasharray="45.5 20 8.5 20" stroke-dashoffset="0"/><path d="M737 1341L724.2 1290.4L750.2 1290.6z" fill="#800000"/>
<path d="M877.5 1220.5L880.4 843.5" stroke="#800000" stroke-width="8" fill="none" stroke-dasharray="45.5 20 8.5 20" stroke-dashoffset="0"/><path d="M880.6 813.5L893.2 864.1L867.2 863.9z" fill="#800000"/>
<path d="M1628.8 247.5L1624.7 656.5" stroke="#800000" stroke-width="8" fill="none" stroke-dasharray="45.5 20 8.5 20" stroke-dashoffset="0"/><path d="M1624.4 686.5L1611.9 635.9L1637.9 636.1z" fill="#800000"/>
<path d="M1876.5 551L1879.7 176.7" stroke="#800000" stroke-width="8" fill="none" stroke-dasharray="45.5 20 8.5 20" stroke-dashoffset="0"/><path d="M1880 146.7L1892.6 197.3L1866.6 197.1z" fill="#800000"/>
<g font-family="'Liberation Sans', Arial, sans-serif" fill="#800000"><text transform="translate(507 1280) scale(.97 1)" font-size="113">T</text><text x="574" y="1237" font-size="76">surf</text><text x="543" y="1313" font-size="76">down</text></g>
<g font-family="'Liberation Sans', Arial, sans-serif" fill="#800000"><text transform="translate(888 918) scale(.97 1)" font-size="113">T</text><text x="954" y="875" font-size="76">surf</text><text x="937.5" y="937" font-size="76">up</text></g>
<g font-family="'Liberation Sans', Arial, sans-serif" fill="#800000"><text transform="translate(1626.5 554) scale(.97 1)" font-size="113">T</text><text x="1689.5" y="509.5" font-size="76">bulk</text><text x="1670.5" y="590" font-size="76">down</text></g>
<g font-family="'Liberation Sans', Arial, sans-serif" fill="#800000"><text transform="translate(1900.5 306.5) scale(.97 1)" font-size="113">T</text><text x="1969" y="262" font-size="76">bulk</text><text x="1946" y="365.5" font-size="76">up</text></g>
<g font-family="'Liberation Sans', Arial, sans-serif" font-weight="bold" font-style="italic" fill="#000">
<text x="800" y="1279.5" font-size="80">H</text><text x="857" y="1307.5" font-size="79">S</text>
<text x="1896.5" y="585.5" font-size="80">H</text><text x="1952" y="605.5" font-size="75">B</text>
</g>
<rect x="1825.5" y="1243.6" width="353.3" height="263" fill="#fff" stroke="#7a7a7a" stroke-width="3.2"/>
<path d="M1910.8 1268.7l18.5 32.5h-37z" fill="#008000"/>
<path d="M1896.5 1361.2h28v28h-28z" fill="#1f3cff"/>
<circle cx="1910.7" cy="1459.7" r="15.3" fill="#ff7f00"/>
<g font-family="'Liberation Sans', Arial, sans-serif" font-size="61.5" fill="#000">
<text x="2004.5" y="1312">5</text><text x="2079.5" y="1313.5" font-size="66" font-weight="bold" text-anchor="middle">×</text><text x="2117.5" y="1312">5</text>
<text x="2004.5" y="1396.3">6</text><text x="2079.5" y="1397.8" font-size="66" font-weight="bold" text-anchor="middle">×</text><text x="2117.5" y="1396.3">6</text>
<text x="2004.5" y="1480.6">7</text><text x="2079.5" y="1482.1" font-size="66" font-weight="bold" text-anchor="middle">×</text><text x="2117.5" y="1480.6">7</text>
</g>
</svg>
</body>
</html>
